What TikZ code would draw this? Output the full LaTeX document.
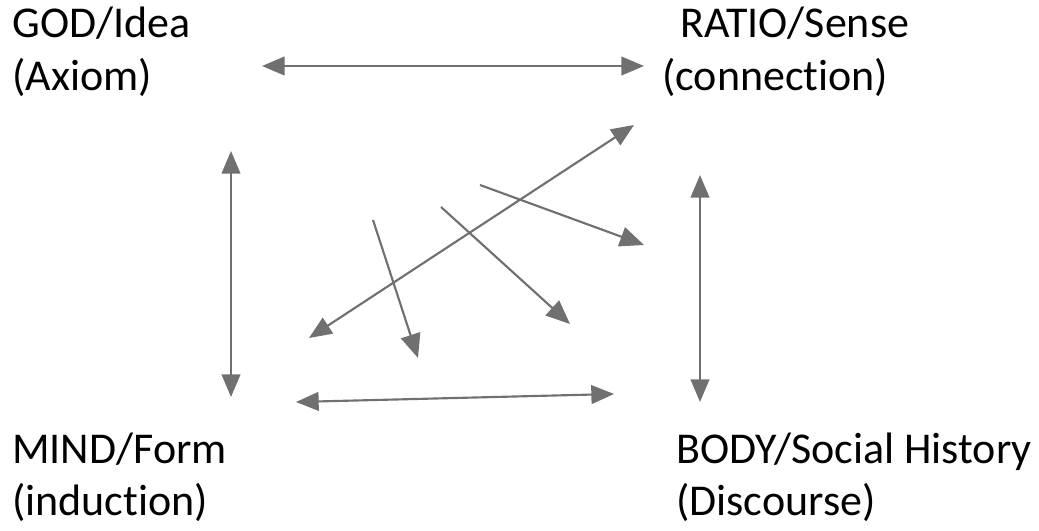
\documentclass[tikz,border=0pt]{standalone}
\usepackage{fontspec}
\setmainfont{Carlito}[RawFeature=-liga]
\usetikzlibrary{arrows.meta}
\definecolor{arrowgray}{RGB}{112,112,112}

\begin{document}
\begin{tikzpicture}[x=0.75pt, y=-0.75pt]
    % Define styles
    \tikzstyle{term} = [anchor=base west, inner sep=0pt, font=\fontsize{33}{40}\selectfont]
    \tikzstyle{both} = [{Triangle[length=17pt,width=14pt]}-{Triangle[length=17pt,width=14pt]}, draw=arrowgray, fill=arrowgray, line width=1.6pt]
    \tikzstyle{arrow} = [-{Triangle[length=18pt,width=15pt]}, draw=arrowgray, fill=arrowgray, line width=1.6pt]

    \useasboundingbox (0,0) rectangle (1039,531);

    % Nodes
    \node[term] (god) at (12,38) {GOD/Idea};
    \node[term] (axiom) at (12,91) {(Axiom)};
    \node[term] (ratio) at (680,38) {RATIO/Sense};
    \node[term] (conn) at (662,91) {(connection)};
    \node[term] (mind) at (12,463) {MIND/Form};
    \node[term] (induct) at (12,515) {(induction)};
    \node[term] (body) at (676,463) {BODY/Social History};
    \node[term] (disc) at (676,515) {(Discourse)};

    % Arrow ends
    \coordinate (topL) at (262,66);
    \coordinate (topR) at (644,66);
    \coordinate (leftT) at (231,151);
    \coordinate (leftB) at (231,397);
    \coordinate (rightT) at (700,175);
    \coordinate (rightB) at (700,402);
    \coordinate (botL) at (296,402);
    \coordinate (botR) at (614,394);
    \coordinate (diagT) at (634,125);
    \coordinate (diagB) at (309,338);
    \coordinate (a1) at (373,220);
    \coordinate (b1) at (418,358);
    \coordinate (a2) at (441,207);
    \coordinate (b2) at (570,324);
    \coordinate (a3) at (480,185);
    \coordinate (b3) at (644,245);

    % Connections
    \draw[both] (topL) -- (topR);
    \draw[both] (leftT) -- (leftB);
    \draw[both] (rightT) -- (rightB);
    \draw[both] (botL) -- (botR);
    \draw[both] (diagB) -- (diagT);
    \draw[arrow] (a1) -- (b1);
    \draw[arrow] (a2) -- (b2);
    \draw[arrow] (a3) -- (b3);
\end{tikzpicture}
\end{document}
